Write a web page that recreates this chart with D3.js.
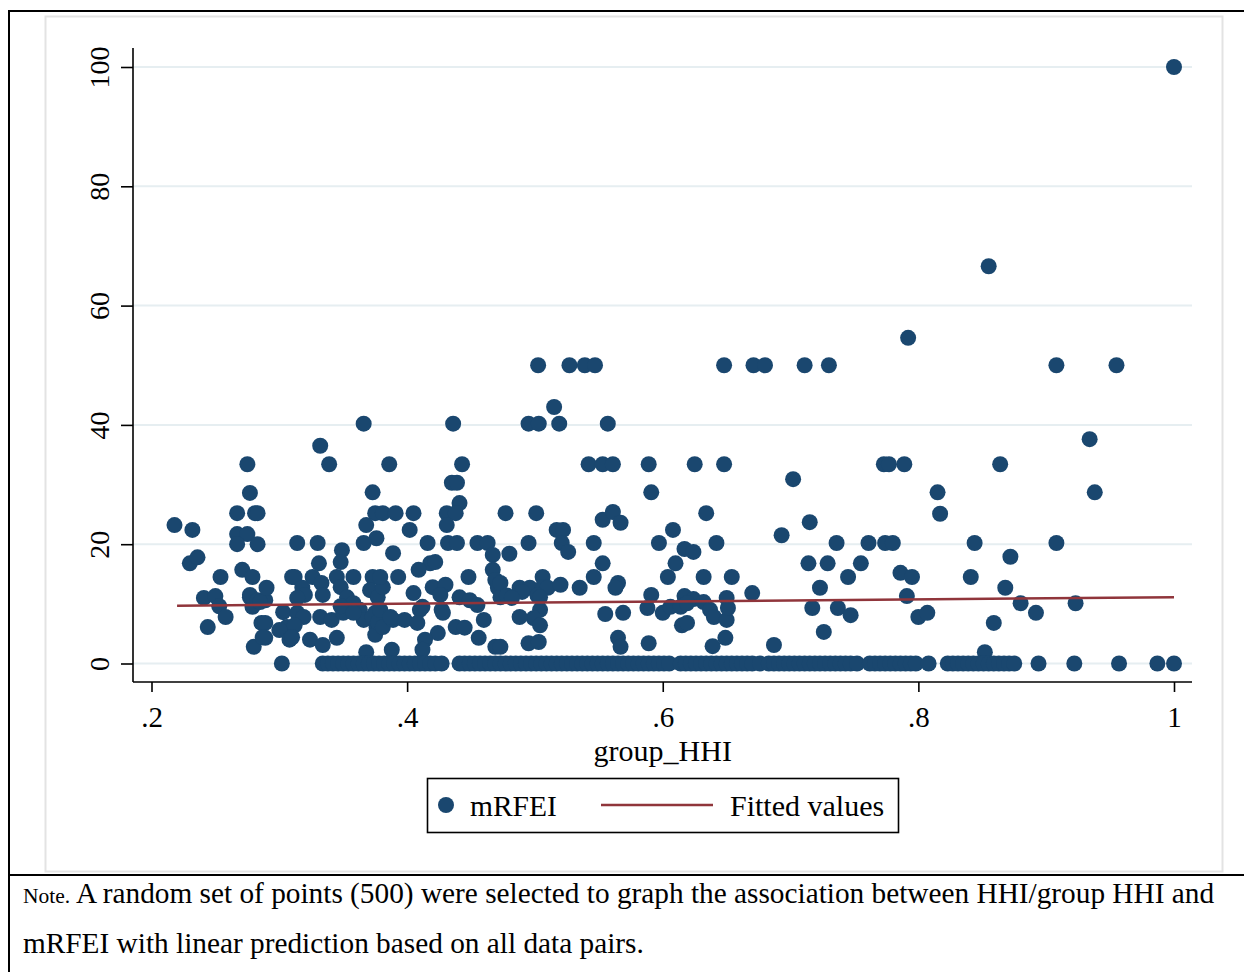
<!DOCTYPE html>
<html>
<head>
<meta charset="utf-8">
<script src="https://cdn.jsdelivr.net/npm/d3@7"></script>
<style>
  body { margin: 0; background: #fff; }
  svg { display: block; font-family: "Liberation Serif", "Times New Roman", serif; }
</style>
</head>
<body>
<div id="chart"></div>
<script>
// DATA ------------------------------------------------------------
// sampled (group_HHI, mRFEI) pairs read off the figure
let points_nonzero = [
  [0.218, 23.2], [0.232, 22.4], [0.230, 16.8], [0.236, 17.8], [0.254, 14.5], [0.241, 11.0],
  [0.250, 11.3], [0.253, 9.6], [0.258, 7.8], [0.244, 6.1],
  [0.267, 25.2], [0.277, 28.6], [0.275, 33.4], [0.281, 25.2], [0.283, 25.2], [0.267, 21.7],
  [0.275, 21.7], [0.267, 20.0], [0.283, 20.0], [0.271, 15.7], [0.279, 14.5], [0.277, 11.1],
  [0.279, 9.5], [0.286, 6.8], [0.280, 2.8], [0.277, 11.5], [0.283, 10.6], [0.289, 10.6],
  [0.290, 12.7], [0.285, 10.3], [0.289, 6.8], [0.289, 4.3], [0.287, 4.4],
  [0.314, 20.2], [0.330, 20.2], [0.373, 28.7], [0.375, 25.2], [0.381, 25.2], [0.368, 23.2],
  [0.376, 21.0], [0.366, 20.2], [0.349, 19.0], [0.348, 17.0], [0.331, 16.8], [0.310, 14.5],
  [0.312, 14.5], [0.326, 14.5], [0.345, 14.5], [0.358, 14.5], [0.373, 14.5],
  [0.318, 12.7], [0.320, 11.5], [0.314, 11.0], [0.333, 13.5], [0.334, 11.5], [0.348, 12.8],
  [0.353, 11.1], [0.358, 10.1], [0.371, 12.3], [0.377, 11.1],
  [0.303, 8.6], [0.306, 6.1], [0.300, 5.6], [0.314, 8.5], [0.319, 7.8], [0.332, 7.8],
  [0.341, 7.3], [0.350, 8.5], [0.363, 9.0], [0.366, 7.3], [0.375, 8.5], [0.376, 6.1],
  [0.308, 4.0], [0.324, 4.0], [0.334, 3.1], [0.345, 4.3], [0.368, 1.9], [0.375, 4.8],
  [0.348, 9.6], [0.358, 8.5], [0.373, 7.8], [0.377, 6.9], [0.381, 6.1], [0.389, 7.3],
  [0.312, 6.4], [0.310, 4.4],
  [0.332, 36.5], [0.339, 33.4], [0.366, 40.2], [0.386, 33.4],
  [0.435, 30.3], [0.439, 30.3], [0.441, 26.9], [0.431, 25.2], [0.438, 25.2], [0.431, 23.2],
  [0.391, 25.2], [0.405, 25.2], [0.402, 22.4],
  [0.416, 20.2], [0.432, 20.2], [0.439, 20.2], [0.455, 20.2], [0.463, 20.2], [0.467, 18.2],
  [0.480, 18.4], [0.389, 18.5], [0.418, 16.8], [0.422, 17.0], [0.409, 15.7], [0.393, 14.5],
  [0.448, 14.5], [0.467, 15.7], [0.469, 14.0], [0.471, 12.7], [0.473, 11.1], [0.420, 12.8],
  [0.430, 13.2], [0.426, 11.5], [0.405, 11.8], [0.381, 12.8], [0.379, 14.5],
  [0.441, 11.1], [0.449, 10.6], [0.455, 9.8], [0.412, 9.5], [0.410, 9.0], [0.427, 9.0],
  [0.428, 8.5], [0.398, 7.3], [0.408, 6.8], [0.379, 9.0], [0.387, 7.8], [0.460, 7.3],
  [0.438, 6.1], [0.445, 6.0], [0.424, 5.1], [0.414, 4.0], [0.412, 2.3], [0.456, 4.3],
  [0.469, 2.8], [0.388, 2.3], [0.436, 40.2], [0.443, 33.4],
  [0.477, 25.2], [0.501, 25.2], [0.517, 22.4], [0.522, 22.4], [0.521, 20.2], [0.526, 18.7],
  [0.495, 20.2], [0.553, 24.1], [0.561, 25.4], [0.567, 23.6], [0.546, 20.2], [0.553, 16.8],
  [0.546, 14.5], [0.506, 14.5], [0.565, 13.5], [0.563, 12.7], [0.473, 13.5], [0.488, 12.7],
  [0.496, 12.7], [0.490, 12.0], [0.506, 12.8], [0.510, 12.7], [0.520, 13.2], [0.535, 12.7],
  [0.478, 11.4], [0.482, 11.0], [0.502, 11.4], [0.504, 11.1], [0.504, 9.0], [0.499, 7.6],
  [0.504, 6.4], [0.488, 7.8], [0.555, 8.3], [0.569, 8.5], [0.495, 3.4], [0.503, 3.6],
  [0.473, 2.8], [0.565, 4.3], [0.567, 2.8],
  [0.5025, 50], [0.527, 50], [0.539, 50], [0.547, 50], [0.648, 50], [0.671, 50],
  [0.680, 50], [0.711, 50], [0.730, 50],
  [0.515, 43.0], [0.495, 40.2], [0.503, 40.2], [0.519, 40.2], [0.557, 40.2],
  [0.542, 33.4], [0.553, 33.4], [0.561, 33.4], [0.589, 33.4], [0.625, 33.4], [0.648, 33.4],
  [0.591, 28.7], [0.702, 30.9], [0.634, 25.2], [0.715, 23.7], [0.608, 22.4], [0.693, 21.5],
  [0.597, 20.2], [0.642, 20.2], [0.617, 19.2], [0.624, 18.7], [0.610, 16.8], [0.714, 16.8],
  [0.604, 14.5], [0.632, 14.5], [0.654, 14.5],
  [0.591, 11.5], [0.617, 11.3], [0.624, 10.8], [0.632, 10.3], [0.650, 11.0], [0.670, 11.8],
  [0.588, 9.3], [0.600, 8.5], [0.606, 9.5], [0.614, 9.5], [0.619, 10.1], [0.637, 9.0],
  [0.640, 7.8], [0.650, 7.3], [0.651, 9.3], [0.717, 9.3], [0.615, 6.4], [0.619, 6.8],
  [0.589, 3.4], [0.639, 2.9], [0.649, 4.3], [0.687, 3.1],
  [0.855, 66.6], [0.792, 54.6], [0.908, 50], [0.955, 50], [0.934, 37.6], [0.773, 33.4],
  [0.777, 33.4], [0.789, 33.4], [0.864, 33.4], [0.815, 28.7], [0.938, 28.7], [0.817, 25.1],
  [0.736, 20.2], [0.761, 20.2], [0.774, 20.2], [0.780, 20.2], [0.844, 20.2], [0.908, 20.2],
  [0.729, 16.8], [0.755, 16.8], [0.745, 14.5], [0.872, 17.9], [0.786, 15.2], [0.795, 14.5],
  [0.841, 14.5], [0.723, 12.7], [0.868, 12.7], [0.791, 11.3], [0.737, 9.3], [0.747, 8.1],
  [0.880, 10.1], [0.892, 8.5], [0.923, 10.1], [0.800, 7.8], [0.807, 8.5], [0.726, 5.3],
  [0.859, 6.8], [0.852, 1.9], [1.0, 100],
];

// group_HHI values of the points that sit on mRFEI = 0
let zero_hhi = [
  0.302, 0.334, 0.338, 0.342, 0.346, 0.350, 0.354, 0.358, 0.362, 0.366, 0.370, 0.374,
  0.378, 0.382, 0.386, 0.390, 0.394, 0.398, 0.402, 0.406, 0.410, 0.414, 0.418, 0.422,
  0.427, 0.441, 0.445, 0.449, 0.453, 0.457, 0.461, 0.465, 0.469, 0.473, 0.477, 0.481,
  0.485, 0.489, 0.493, 0.497, 0.501, 0.505, 0.509, 0.513, 0.517, 0.521, 0.525, 0.529,
  0.533, 0.537, 0.541, 0.545, 0.549, 0.553, 0.557, 0.561, 0.565, 0.569, 0.573, 0.577,
  0.581, 0.585, 0.589, 0.593, 0.597, 0.601, 0.605, 0.614, 0.618, 0.622, 0.626, 0.630,
  0.634, 0.638, 0.642, 0.646, 0.650, 0.654, 0.658, 0.662, 0.666, 0.670, 0.676, 0.683,
  0.687, 0.691, 0.695, 0.699, 0.703, 0.707, 0.711, 0.715, 0.719, 0.723, 0.727, 0.731,
  0.735, 0.739, 0.743, 0.747, 0.752, 0.762, 0.766, 0.770, 0.774, 0.778, 0.782, 0.786,
  0.790, 0.794, 0.798, 0.808, 0.823, 0.827, 0.831, 0.835, 0.839, 0.843, 0.847, 0.851,
  0.855, 0.859, 0.863, 0.867, 0.871, 0.875, 0.894, 0.922, 0.957, 0.987, 1.0,
];

// linear prediction (Fitted values) end points
let fitted = [[0.22, 9.7], [1.0, 11.1]];

let x_ticks = [0.2, 0.4, 0.6, 0.8, 1];
let x_tick_labels = [".2", ".4", ".6", ".8", "1"];
let y_ticks = [0, 20, 40, 60, 80, 100];

let note_small = "Note.";
let note_line1 = " A random set of points (500) were selected to graph the association between HHI/group HHI and";
let note_line2 = "mRFEI with linear prediction based on all data pairs.";

// COLORS ----------------------------------------------------------
const NAVY = "#1a476f";
const MAROON = "#90353b";
const GRID = "#e6eef1";

// SETUP -----------------------------------------------------------
let width = 1244,
  height = 972;

let svg = d3
  .select("#chart")
  .append("svg")
  .attr("width", width)
  .attr("height", height);

svg.append("rect").attr("width", width).attr("height", height).attr("fill", "#fff");

// outer table frame
svg.append("line").attr("x1", 9).attr("x2", width).attr("y1", 11).attr("y2", 11)
  .attr("stroke", "#000").attr("stroke-width", 2);
svg.append("line").attr("x1", 9).attr("x2", 9).attr("y1", 10).attr("y2", height)
  .attr("stroke", "#000").attr("stroke-width", 2);
svg.append("line").attr("x1", 9).attr("x2", width).attr("y1", 875).attr("y2", 875)
  .attr("stroke", "#000").attr("stroke-width", 2);

// light graph region frame
svg.append("rect")
  .attr("x", 45.5).attr("y", 16.5)
  .attr("width", 1177).attr("height", 855)
  .attr("fill", "#fff")
  .attr("stroke", "#e3e3e3")
  .attr("stroke-width", 2);

let plot = { left: 133, right: 1192, top: 48, bottom: 682 };

let x = d3.scaleLinear().domain([0.2, 1]).range([151.5, 1174]);
let y = d3.scaleLinear().domain([0, 100]).range([663.5, 67]);

// gridlines
svg.append("g")
  .selectAll("line")
  .data(y_ticks)
  .enter()
  .append("line")
  .attr("x1", plot.left)
  .attr("x2", plot.right)
  .attr("y1", (d) => y(d))
  .attr("y2", (d) => y(d))
  .attr("stroke", GRID)
  .attr("stroke-width", 2);

// axes
let x_axis = d3.axisBottom(x)
  .tickValues(x_ticks)
  .tickFormat((d, i) => x_tick_labels[i])
  .tickSize(10)
  .tickPadding(14);

let gx = svg.append("g")
  .attr("transform", `translate(0,${plot.bottom})`)
  .call(x_axis);
gx.select(".domain").remove();
gx.append("line").attr("x1", plot.left).attr("x2", plot.right)
  .attr("stroke", "#000").attr("stroke-width", 1.6);
gx.selectAll(".tick line").attr("stroke", "#000").attr("stroke-width", 1.6);
gx.selectAll(".tick text")
  .attr("fill", "#000")
  .attr("font-size", 29)
  .attr("font-family", "Liberation Serif, serif");

let y_axis = d3.axisLeft(y)
  .tickValues(y_ticks)
  .tickSize(12)
  .tickPadding(0);

let gy = svg.append("g")
  .attr("transform", `translate(${plot.left},0)`)
  .call(y_axis);
gy.select(".domain").remove();
gy.append("line").attr("y1", plot.top).attr("y2", plot.bottom)
  .attr("stroke", "#000").attr("stroke-width", 1.6);
gy.selectAll(".tick line").attr("stroke", "#000").attr("stroke-width", 1.6);
gy.selectAll(".tick text")
  .attr("fill", "#000")
  .attr("font-size", 28)
  .attr("font-family", "Liberation Serif, serif")
  .attr("text-anchor", "middle")
  .attr("dy", 0)
  .attr("x", 0)
  .attr("transform", "translate(-24,0) rotate(-90)");

// axis title
svg.append("text")
  .attr("x", x(0.6))
  .attr("y", 761)
  .attr("text-anchor", "middle")
  .attr("font-size", 30)
  .text("group_HHI");

// scatter points
let all_points = points_nonzero.concat(zero_hhi.map((h) => [h, 0]));

svg.append("g")
  .selectAll("circle")
  .data(all_points)
  .enter()
  .append("circle")
  .attr("cx", (d) => x(d[0]))
  .attr("cy", (d) => y(d[1]))
  .attr("r", 8)
  .attr("fill", NAVY);

// fitted line
svg.append("path")
  .datum(fitted)
  .attr("d", d3.line().x((d) => x(d[0])).y((d) => y(d[1])))
  .attr("fill", "none")
  .attr("stroke", MAROON)
  .attr("stroke-width", 2.5);

// legend
let legend = svg.append("g");
legend.append("rect")
  .attr("x", 427.5).attr("y", 778.5)
  .attr("width", 471).attr("height", 54)
  .attr("fill", "#fff")
  .attr("stroke", "#000")
  .attr("stroke-width", 1.6);
legend.append("circle").attr("cx", 446).attr("cy", 805).attr("r", 8).attr("fill", NAVY);
legend.append("text").attr("x", 470).attr("y", 816).attr("font-size", 29.5).text("mRFEI");
legend.append("line")
  .attr("x1", 601).attr("x2", 713).attr("y1", 805).attr("y2", 805)
  .attr("stroke", MAROON).attr("stroke-width", 2.5);
legend.append("text").attr("x", 730).attr("y", 816).attr("font-size", 30).text("Fitted values");

// note below the graph
let note = svg.append("text").attr("x", 23).attr("y", 903).attr("font-size", 29.3);
note.append("tspan").attr("font-size", 21.5).text(note_small);
note.append("tspan").text(note_line1);
svg.append("text").attr("x", 23).attr("y", 953).attr("font-size", 29.3).text(note_line2);
</script>
</body>
</html>
